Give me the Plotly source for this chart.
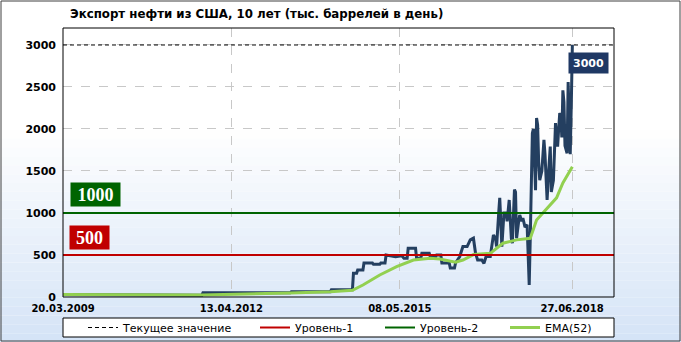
import numpy as np
import pandas as pd
import plotly.graph_objects as go

# ---------------- data ----------------
start_date = pd.Timestamp("2009-03-20")

# weekly index since 20.03.2009 and export values (thousand barrels per day)
main_weeks = [0, 32, 33, 132, 133, 216, 217, 254, 255, 275, 276, 279, 280, 285, 286, 294, 295, 301,
              302, 306, 307, 316, 322, 324, 327, 328, 335, 336, 340, 341, 348, 349, 354, 355, 359,
              360, 367, 368, 372, 373, 377, 380, 384, 387, 390, 392, 394, 398, 400, 402, 406, 408,
              409, 411, 412, 414, 415, 416, 417, 418, 419, 421, 422, 424, 426, 427, 429, 430, 431,
              433, 434, 436, 437, 439, 441, 442, 443, 444, 446, 447, 448, 449, 450, 451, 452, 453,
              455, 457, 458, 460, 461, 463, 464, 466, 467, 468, 469, 470, 471, 472, 473, 474, 475,
              476, 477, 479, 480, 481, 482, 483, 484]
main_vals = [30, 30, 22, 22, 50, 50, 63, 63, 85, 85, 282, 282, 321, 321, 405, 405, 389, 389,
             405, 405, 500, 480, 490, 460, 460, 580, 580, 460, 460, 520, 520, 480, 480, 500, 500,
             405, 405, 345, 345, 405, 482, 600, 600, 680, 700, 520, 440, 440, 400, 482, 482, 650,
             737, 700, 600, 1000, 1180, 900, 600, 800, 1000, 1000, 900, 1155, 700, 640, 1280, 1250, 700,
             900, 977, 900, 940, 830, 860, 500, 143, 700, 1950, 2000, 1500, 1270, 2130, 2050, 1600, 1390,
             1500, 1870, 1700, 1155, 1400, 1790, 1250, 1390, 1725, 2070, 1900, 1790, 2000, 2190, 2150, 1900, 2460,
             2320, 1800, 1710, 2560, 2000, 1700, 2300, 3000]

ema_weeks = [0, 33, 132, 216, 254, 275, 285, 301, 317, 333, 349, 358, 373, 380, 390, 406,
             418, 431, 442, 444, 450, 460, 469, 475, 484]
ema_vals = [30, 27, 23, 48, 62, 80, 143, 262, 361, 440, 460, 452, 413, 440, 505, 520,
            640, 680, 700, 698, 917, 1060, 1180, 1357, 1551]

current_value = 3000
level1 = 500
level2 = 1000

x_tick_dates = ["2009-03-20", "2012-04-13", "2015-05-08", "2018-06-27"]
x_tick_labels = ["20.03.2009", "13.04.2012", "08.05.2015", "27.06.2018"]
y_ticks = [0, 500, 1000, 1500, 2000, 2500, 3000]
x_range = ["2009-03-20", "2019-04-02"]
y_range = [0, 3202]

title = "Экспорт нефти из США, 10 лет (тыс. баррелей в день)"

# ---------------- figure ----------------
main_dates = start_date + pd.to_timedelta(np.array(main_weeks) * 7, unit="D")
ema_dates = start_date + pd.to_timedelta(np.array(ema_weeks) * 7, unit="D")

W, H = 681, 342
L, R, T, B = 63, 67, 28, 45
pw, ph = W - L - R, H - T - B


def px_x(px):
    return (px - L) / pw


def px_y(py):
    return (H - B - py) / ph


fig = go.Figure()

fig.add_trace(go.Scatter(
    x=main_dates, y=main_vals, mode="lines", name="Экспорт",
    line=dict(color="#243f60", width=3), showlegend=False, hoverinfo="skip"))
fig.add_trace(go.Scatter(
    x=ema_dates, y=ema_vals, mode="lines", name="EMA(52)",
    line=dict(color="#92d050", width=3), legend="legend4"))

shapes = []
# background gradient
top_py, bot_py, n = 130, H, 24
c0 = np.array([255, 255, 255])
c1 = np.array([213, 228, 247])
for i in range(n):
    y0 = top_py + (bot_py - top_py) * i / n
    y1 = top_py + (bot_py - top_py) * (i + 1) / n
    c = (c0 + (c1 - c0) * (i + 0.5) / n).astype(int)
    shapes.append(dict(type="rect", xref="paper", yref="paper",
                       x0=px_x(0), x1=px_x(W), y0=px_y(y1), y1=px_y(y0),
                       fillcolor=f"rgb({c[0]},{c[1]},{c[2]})", line=dict(width=0),
                       layer="below"))
# legend box
shapes.append(dict(type="rect", xref="paper", yref="paper",
                   x0=0, x1=1, y0=px_y(337), y1=px_y(318),
                   fillcolor="white", line=dict(color="black", width=1), layer="below"))
# outer frame
shapes.append(dict(type="rect", xref="paper", yref="paper",
                   x0=px_x(1), x1=px_x(680), y0=px_y(341), y1=px_y(1),
                   line=dict(color="#404040", width=1), layer="above"))
fig.update_layout(shapes=shapes)

fig.add_shape(type="line", xref="x domain", yref="y", x0=0, x1=1,
              y0=current_value, y1=current_value, layer="above",
              line=dict(color="black", width=1, dash="4px,3px"),
              showlegend=True, name="Текущее значение", legend="legend")
fig.add_shape(type="line", xref="x domain", yref="y", x0=0, x1=1,
              y0=level1, y1=level1, layer="above",
              line=dict(color="#c00000", width=2),
              showlegend=True, name="Уровень-1", legend="legend2")
fig.add_shape(type="line", xref="x domain", yref="y", x0=0, x1=1,
              y0=level2, y1=level2, layer="above",
              line=dict(color="#006400", width=2),
              showlegend=True, name="Уровень-2", legend="legend3")
# plot frame
fig.add_shape(type="rect", xref="paper", yref="paper", x0=0, x1=1, y0=0, y1=1,
              line=dict(color="black", width=1), layer="above")

fig.add_annotation(x=0, xref="paper", xanchor="left", xshift=7,
                   y=level2, yref="y", yanchor="bottom", yshift=6,
                   text=str(level2), showarrow=False,
                   font=dict(family="Liberation Serif", size=18, color="white", weight="bold"),
                   bgcolor="#006400", width=45, height=19, borderpad=2)
fig.add_annotation(x=0, xref="paper", xanchor="left", xshift=6,
                   y=level1, yref="y", yanchor="bottom", yshift=5,
                   text=str(level1), showarrow=False,
                   font=dict(family="Liberation Serif", size=18, color="white", weight="bold"),
                   bgcolor="#c00000", width=35, height=19, borderpad=2)
fig.add_annotation(x=main_dates[-1], xref="x", xanchor="left", xshift=-4,
                   y=main_vals[-1], yref="y", yanchor="top", yshift=-7,
                   text=str(main_vals[-1]), showarrow=False,
                   font=dict(family="DejaVu Sans", size=11, color="white", weight="bold"),
                   bgcolor="#1f3864", width=35, height=16, borderpad=2)
fig.add_annotation(x=px_x(68), xref="paper", xanchor="left",
                   y=px_y(14), yref="paper", yanchor="middle",
                   text=title, showarrow=False,
                   font=dict(family="DejaVu Sans", size=11.8, color="black", weight="bold"))

tickfont = dict(family="DejaVu Sans", size=11, color="black", weight="bold")
legfont = dict(family="DejaVu Sans", size=11, color="black")


def leg(px):
    return dict(orientation="h", x=px_x(px), xanchor="left", y=px_y(327.5), yanchor="middle",
                bgcolor="rgba(0,0,0,0)", borderwidth=0, font=legfont)


fig.update_layout(
    width=W, height=H,
    margin=dict(l=L, r=R, t=T, b=B, autoexpand=False),
    paper_bgcolor="white", plot_bgcolor="rgba(0,0,0,0)",
    xaxis=dict(type="date", range=x_range, tickvals=x_tick_dates, ticktext=x_tick_labels,
               showgrid=True, gridcolor="#c8c8c8", griddash="dash", gridwidth=1,
               tickfont=dict(family="DejaVu Sans", size=10, color="black", weight="bold"),
               ticks="", zeroline=False, showline=False, ticklabelstandoff=4),
    yaxis=dict(range=y_range, tickvals=y_ticks, showgrid=True, gridcolor="#c8c8c8",
               griddash="dash", gridwidth=1, tickfont=tickfont, ticks="",
               zeroline=False, showline=False, ticklabelstandoff=6),
    yaxis2=dict(range=y_range, tickvals=y_ticks, overlaying="y", side="right",
                showgrid=False, tickfont=tickfont, ticks="", zeroline=False,
                showline=False, ticklabelstandoff=12),
    legend=leg(83),
    legend2=leg(255),
    legend3=leg(380),
    legend4=leg(505),
    showlegend=True,
)

fig.write_html("out.html")
